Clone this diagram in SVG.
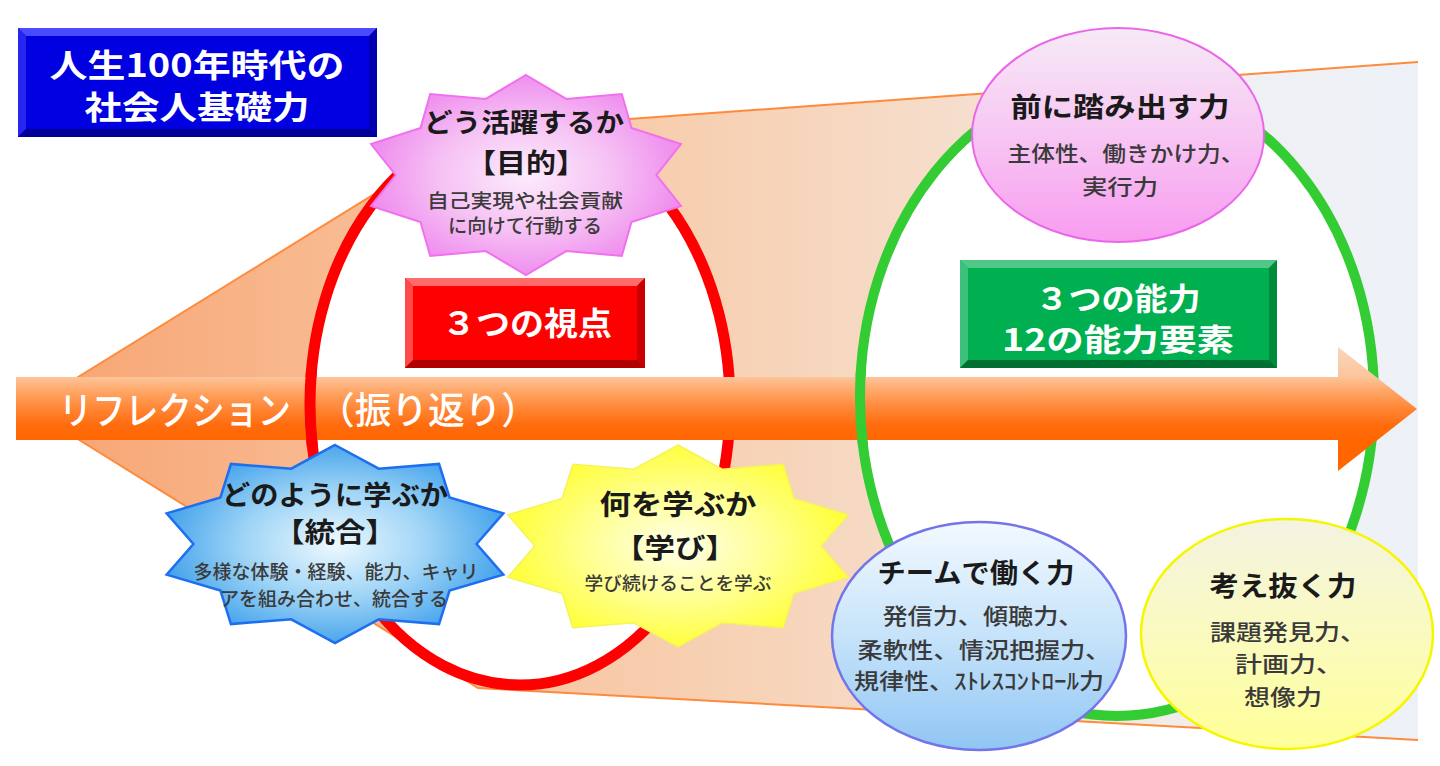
<svg xmlns="http://www.w3.org/2000/svg" width="1440" height="766" viewBox="0 0 1440 766">
<style>
text{font-family:"Noto Sans CJK JP","Noto Sans CJK SC",sans-serif;text-anchor:middle}
.w{fill:#ffffff;font-weight:700}
.h{fill:#1a1a1a;font-weight:700}
.s{fill:#3a3a3a;font-weight:500}
.a{fill:#ffffff;font-weight:500}
</style>
<defs>
<polygon id="star10" vector-effect="non-scaling-stroke" points="0,-1 0.2472,-0.7608 0.5878,-0.809 0.6472,-0.4702 0.9511,-0.309 0.8,0 0.9511,0.309 0.6472,0.4702 0.5878,0.809 0.2472,0.7608 0,1 -0.2472,0.7608 -0.5878,0.809 -0.6472,0.4702 -0.9511,0.309 -0.8,0 -0.9511,-0.309 -0.6472,-0.4702 -0.5878,-0.809 -0.2472,-0.7608"/>
<linearGradient id="gFunnel" gradientUnits="userSpaceOnUse" x1="28" y1="0" x2="1418" y2="0">
<stop offset="0" stop-color="#f7a370"/>
<stop offset="0.2" stop-color="#f8b88e"/>
<stop offset="0.5" stop-color="#f7d1b4"/>
<stop offset="0.75" stop-color="#f5e4d8"/>
<stop offset="0.86" stop-color="#f0f0f3"/>
<stop offset="1" stop-color="#edf1f7"/>
</linearGradient>
<linearGradient id="gArrow" x1="0" y1="0" x2="0" y2="1">
<stop offset="0" stop-color="#f9d6bb"/>
<stop offset="0.24" stop-color="#fcc59c"/>
<stop offset="0.36" stop-color="#ffa565"/>
<stop offset="0.5" stop-color="#ff8534"/>
<stop offset="0.63" stop-color="#ff6c0e"/>
<stop offset="0.75" stop-color="#ff6600"/>
<stop offset="1" stop-color="#ff6600"/>
</linearGradient>
<radialGradient id="gPinkStar" cx="0.5" cy="0.5" r="0.5">
<stop offset="0" stop-color="#fcecfc"/>
<stop offset="0.55" stop-color="#f6c2f4"/>
<stop offset="1" stop-color="#ef8eee"/>
</radialGradient>
<radialGradient id="gBlueStar" cx="0.5" cy="0.5" r="0.5">
<stop offset="0" stop-color="#eef9ff"/>
<stop offset="0.55" stop-color="#9ed4f6"/>
<stop offset="1" stop-color="#4aa6ec"/>
</radialGradient>
<radialGradient id="gYellowStar" cx="0.5" cy="0.5" r="0.5">
<stop offset="0" stop-color="#ffffea"/>
<stop offset="0.55" stop-color="#ffff90"/>
<stop offset="1" stop-color="#ffff3c"/>
</radialGradient>
<linearGradient id="gPinkCircle" x1="0" y1="0" x2="0" y2="1">
<stop offset="0" stop-color="#f6eaf6"/>
<stop offset="0.5" stop-color="#f7c6f3"/>
<stop offset="1" stop-color="#f89cf0"/>
</linearGradient>
<linearGradient id="gBlueCircle" x1="0" y1="0" x2="0" y2="1">
<stop offset="0" stop-color="#f2f9ff"/>
<stop offset="0.5" stop-color="#c6e3fa"/>
<stop offset="1" stop-color="#90c6f4"/>
</linearGradient>
<linearGradient id="gYellowCircle" x1="0" y1="0" x2="0" y2="1">
<stop offset="0" stop-color="#f3f3e2"/>
<stop offset="0.5" stop-color="#fafac0"/>
<stop offset="1" stop-color="#ffff98"/>
</linearGradient>
<clipPath id="clipRedLeft"><rect x="290" y="370" width="50" height="76"/></clipPath>
<clipPath id="clipGreenLeft"><rect x="840" y="370" width="45" height="76"/></clipPath>
</defs>

<rect x="0" y="0" width="1440" height="766" fill="#ffffff"/>

<g id="funnel">
<polygon points="28,408 478,130 1418,62 1418,740 478,688" fill="url(#gFunnel)"/>
<polyline points="1418,62 478,130 28,408 478,688 1418,740" fill="none" stroke="#ff8a3c" stroke-width="2"/>
</g>

<g id="red-ellipse">
<ellipse cx="520" cy="404" rx="210" ry="281" fill="#ffffff" stroke="#ff0000" stroke-width="11"/>
</g>
<g id="green-ellipse">
<ellipse cx="1117" cy="397" rx="257" ry="319" fill="#ffffff" stroke="#33cc33" stroke-width="10"/>
</g>

<g id="connectors">
<path id="reflection-arrow" d="M16,377 H1338 V347 L1417,409 L1338,471 V440 H16 Z" fill="url(#gArrow)"/>
<ellipse cx="520" cy="404" rx="210" ry="281" fill="none" stroke="#ff0000" stroke-width="11" clip-path="url(#clipRedLeft)"/>
<ellipse cx="1117" cy="397" rx="257" ry="319" fill="none" stroke="#33cc33" stroke-width="10" clip-path="url(#clipGreenLeft)"/>
<text class="a" x="175" y="424" font-size="38" textLength="232" lengthAdjust="spacingAndGlyphs">リフレクション</text>
<text class="a" x="318" y="424" font-size="37" style="text-anchor:start" textLength="220" lengthAdjust="spacingAndGlyphs">（振り返り）</text>
</g>

<g id="title-box">
<rect x="18" y="28" width="359" height="109" fill="#0000e0"/>
<polygon points="18,28 377,28 369,36 26,36" fill="#4a4aff"/>
<polygon points="18,28 26,36 26,129 18,137" fill="#2626f0"/>
<polygon points="377,28 377,137 369,129 369,36" fill="#0000b0"/>
<polygon points="18,137 26,129 369,129 377,137" fill="#000098"/>
<text class="w" x="197" y="77" font-size="32" textLength="295" lengthAdjust="spacingAndGlyphs">人生100年時代の</text>
<text class="w" x="197" y="119" font-size="32" textLength="225" lengthAdjust="spacingAndGlyphs">社会人基礎力</text>
</g>

<g id="red-box">
<rect x="405" y="278" width="240" height="90" fill="#ff0000"/>
<polygon points="405,278 645,278 637,286 413,286" fill="#ff6a6a"/>
<polygon points="405,278 413,286 413,360 405,368" fill="#ff4a4a"/>
<polygon points="645,278 645,368 637,360 637,286" fill="#c80000"/>
<polygon points="405,368 413,360 637,360 645,368" fill="#b00000"/>
<text class="w" x="527" y="335" font-size="32" textLength="170" lengthAdjust="spacingAndGlyphs">３つの視点</text>
</g>

<g id="green-box">
<rect x="960" y="260" width="317" height="108" fill="#00b050"/>
<polygon points="960,260 1277,260 1269,268 968,268" fill="#50c888"/>
<polygon points="960,260 968,268 968,360 960,368" fill="#3cc07c"/>
<polygon points="1277,260 1277,368 1269,360 1269,268" fill="#008a3c"/>
<polygon points="960,368 968,360 1269,360 1277,368" fill="#007030"/>
<text class="w" x="1118" y="310" font-size="31" textLength="165" lengthAdjust="spacingAndGlyphs">３つの能力</text>
<text class="w" x="1118" y="351" font-size="31" textLength="232" lengthAdjust="spacingAndGlyphs">12の能力要素</text>
</g>

<g id="star-purpose">
<use href="#star10" transform="translate(526,175) scale(163,100)" fill="url(#gPinkStar)" stroke="#f070ee" stroke-width="2"/>
<text class="h" x="524" y="132" font-size="26" textLength="200" lengthAdjust="spacingAndGlyphs">どう活躍するか</text>
<text class="h" x="526" y="173" font-size="27" textLength="120" lengthAdjust="spacingAndGlyphs">【目的】</text>
<text class="s" x="525" y="208" font-size="19" textLength="196" lengthAdjust="spacingAndGlyphs">自己実現や社会貢献</text>
<text class="s" x="525" y="233" font-size="19" textLength="154" lengthAdjust="spacingAndGlyphs">に向けて行動する</text>
</g>

<g id="star-integration">
<use href="#star10" transform="translate(335,544) scale(177,99)" fill="url(#gBlueStar)" stroke="#1e6ef0" stroke-width="2.5"/>
<text class="h" x="335" y="505" font-size="27" textLength="226" lengthAdjust="spacingAndGlyphs">どのように学ぶか</text>
<text class="h" x="335" y="542" font-size="27" textLength="122" lengthAdjust="spacingAndGlyphs">【統合】</text>
<text class="s" x="336" y="579" font-size="19" textLength="285" lengthAdjust="spacingAndGlyphs">多様な体験・経験、能力、キャリ</text>
<text class="s" x="334" y="606" font-size="19" textLength="228" lengthAdjust="spacingAndGlyphs">アを組み合わせ、統合する</text>
</g>

<g id="star-learning">
<use href="#star10" transform="translate(678,546) scale(179,101)" fill="url(#gYellowStar)" stroke="#f4f458" stroke-width="1.5"/>
<text class="h" x="678" y="515" font-size="28" textLength="157" lengthAdjust="spacingAndGlyphs">何を学ぶか</text>
<text class="h" x="675" y="558" font-size="27" textLength="122" lengthAdjust="spacingAndGlyphs">【学び】</text>
<text class="s" x="678" y="590" font-size="18" textLength="187" lengthAdjust="spacingAndGlyphs">学び続けることを学ぶ</text>
</g>

<g id="circle-action">
<ellipse cx="1118" cy="135" rx="146" ry="107" fill="url(#gPinkCircle)" stroke="#ea66ea" stroke-width="2"/>
<text class="h" x="1120" y="117" font-size="27" textLength="219" lengthAdjust="spacingAndGlyphs">前に踏み出す力</text>
<text class="s" x="1126" y="161" font-size="21" textLength="237" lengthAdjust="spacingAndGlyphs">主体性、働きかけ力、</text>
<text class="s" x="1120" y="194" font-size="21" textLength="76" lengthAdjust="spacingAndGlyphs">実行力</text>
</g>

<g id="circle-team">
<ellipse cx="979" cy="636" rx="147" ry="114" fill="url(#gBlueCircle)" stroke="#7474ea" stroke-width="2.5"/>
<text class="h" x="976" y="583" font-size="27" textLength="197" lengthAdjust="spacingAndGlyphs">チームで働く力</text>
<text class="s" x="983" y="624" font-size="22" textLength="201" lengthAdjust="spacingAndGlyphs">発信力、傾聴力、</text>
<text class="s" x="984" y="658" font-size="22" textLength="253" lengthAdjust="spacingAndGlyphs">柔軟性、情況把握力、</text>
<text class="s" x="979" y="689" font-size="22" textLength="250" lengthAdjust="spacingAndGlyphs">規律性、ｽﾄﾚｽｺﾝﾄﾛｰﾙ力</text>
</g>

<g id="circle-thinking">
<ellipse cx="1287" cy="634" rx="146" ry="115" fill="url(#gYellowCircle)" stroke="#f6f600" stroke-width="2.5"/>
<text class="h" x="1283" y="596" font-size="27" textLength="147" lengthAdjust="spacingAndGlyphs">考え抜く力</text>
<text class="s" x="1288" y="640" font-size="22" textLength="156" lengthAdjust="spacingAndGlyphs">課題発見力、</text>
<text class="s" x="1289" y="672" font-size="22" textLength="108" lengthAdjust="spacingAndGlyphs">計画力、</text>
<text class="s" x="1283" y="705" font-size="22" textLength="78" lengthAdjust="spacingAndGlyphs">想像力</text>
</g>
</svg>
